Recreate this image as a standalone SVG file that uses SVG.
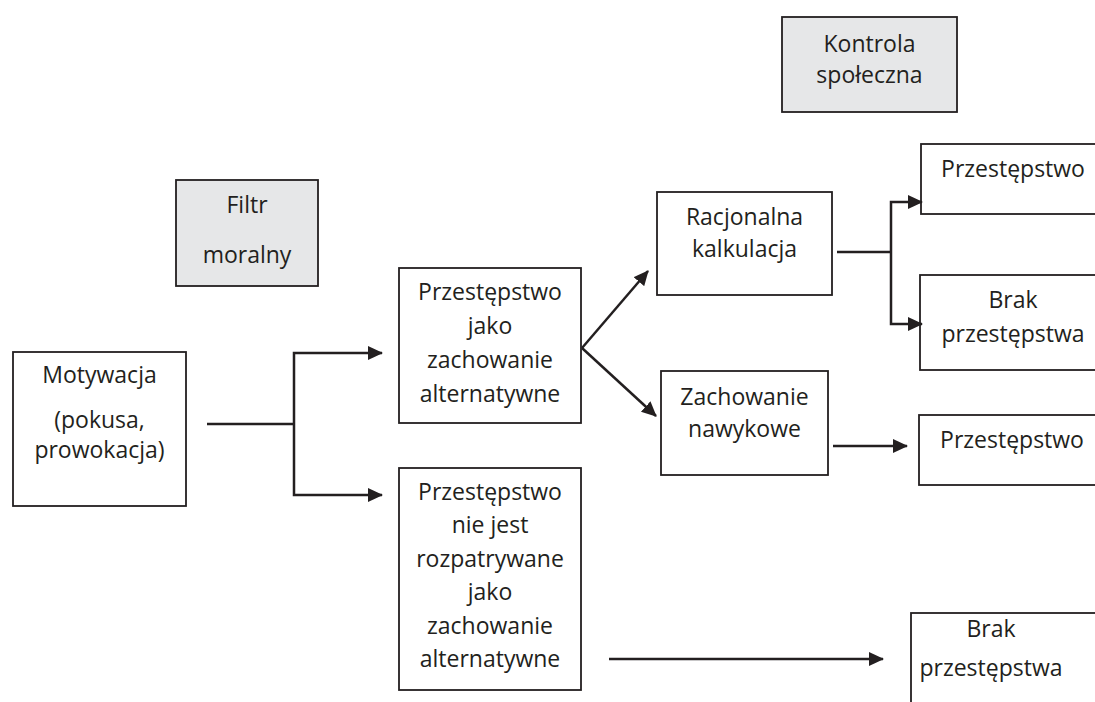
<svg xmlns="http://www.w3.org/2000/svg" width="1095" height="702" viewBox="0 0 1095 702">
<style>
.box{fill:#ffffff;stroke:#231f20;stroke-width:1.8}
.gray{fill:#e6e7e8;stroke:#231f20;stroke-width:1.8}
text{font-family:"Open Sans","Liberation Sans",sans-serif;font-size:23px;fill:#231f20;text-anchor:middle}
.conn{fill:none;stroke:#231f20;stroke-width:2.5}
</style>
<defs>
<marker id="arr" markerUnits="userSpaceOnUse" markerWidth="17" markerHeight="15" refX="14" refY="7" orient="auto">
<path d="M0,0 L15,7 L0,14 Z" fill="#231f20"/>
</marker>
</defs>
<rect width="1095" height="702" fill="#ffffff"/>
<g id="kontrola">
<rect class="gray" x="782" y="17" width="175" height="95"/>
<text x="869.5" y="52">Kontrola</text>
<text x="869.5" y="83">społeczna</text>
</g>
<g id="filtr">
<rect class="gray" x="176" y="180" width="142" height="106"/>
<text x="247" y="213">Filtr</text>
<text x="247" y="263">moralny</text>
</g>
<g id="motywacja">
<rect class="box" x="13" y="352" width="173" height="154"/>
<text x="99.5" y="383">Motywacja</text>
<text x="99.5" y="428">(pokusa,</text>
<text x="99.5" y="458">prowokacja)</text>
</g>
<g id="alternatywne">
<rect class="box" x="399" y="268" width="182" height="155"/>
<text x="490" y="300">Przestępstwo</text>
<text x="490" y="334">jako</text>
<text x="490" y="368">zachowanie</text>
<text x="490" y="402">alternatywne</text>
</g>
<g id="nie-alternatywne">
<rect class="box" x="399" y="468" width="182" height="222"/>
<text x="490" y="500">Przestępstwo</text>
<text x="490" y="533">nie jest</text>
<text x="490" y="567">rozpatrywane</text>
<text x="490" y="600">jako</text>
<text x="490" y="634">zachowanie</text>
<text x="490" y="667">alternatywne</text>
</g>
<g id="racjonalna">
<rect class="box" x="657" y="192" width="175" height="103"/>
<text x="744.5" y="225">Racjonalna</text>
<text x="744.5" y="257">kalkulacja</text>
</g>
<g id="nawykowe">
<rect class="box" x="661" y="371" width="167" height="104"/>
<text x="744.5" y="405">Zachowanie</text>
<text x="744.5" y="437">nawykowe</text>
</g>
<g id="przestepstwo1">
<rect class="box" x="921" y="144" width="190" height="70"/>
<text x="1013" y="177">Przestępstwo</text>
</g>
<g id="brak1">
<rect class="box" x="920" y="275" width="190" height="95"/>
<text x="1013" y="308">Brak</text>
<text x="1013" y="342">przestępstwa</text>
</g>
<g id="przestepstwo2">
<rect class="box" x="919" y="415" width="190" height="70"/>
<text x="1012" y="448">Przestępstwo</text>
</g>
<g id="brak2">
<rect class="box" x="911" y="613" width="200" height="100"/>
<text x="991" y="637">Brak</text>
<text x="991" y="676">przestępstwa</text>
</g>
<g id="connectors">
<path class="conn" d="M207,424 H294"/>
<path class="conn" d="M294,424 V353 H382" marker-end="url(#arr)"/>
<path class="conn" d="M294,424 V495 H382" marker-end="url(#arr)"/>
<path class="conn" d="M582,348 L648,271" marker-end="url(#arr)"/>
<path class="conn" d="M582,348 L656,416" marker-end="url(#arr)"/>
<path class="conn" d="M837,252 H891"/>
<path class="conn" d="M891,252 V202 H922" marker-end="url(#arr)"/>
<path class="conn" d="M891,252 V324 H922" marker-end="url(#arr)"/>
<path class="conn" d="M833,446 H907" marker-end="url(#arr)"/>
<path class="conn" d="M609,659 H883" marker-end="url(#arr)"/>
</g>
</svg>
